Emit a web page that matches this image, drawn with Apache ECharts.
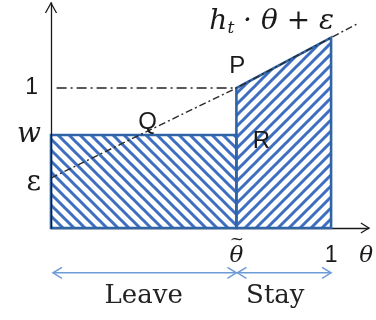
<!DOCTYPE html>
<html>
<head>
<meta charset="utf-8">
<script src="https://cdn.jsdelivr.net/npm/echarts@6/dist/echarts.min.js"></script>
<style>
  html, body { margin: 0; padding: 0; background: #fff; }
  #chart { width: 376px; height: 320px; }
</style>
</head>
<body>
<div id="chart"></div>
<script>
// Worker types θ in [0, 1]; those below the threshold θ̃ leave, the rest stay.
const thetaTilde = 0.662;
const wage = 0.664;            // w: outside payoff
const epsilon = 0.357;         // ε: intercept of h_t·θ + ε
const stayTop = [1.0, 1.36];   // payoff at θ̃ and at θ = 1
const lineTheta = [0, 0.662, 1, 1.1];
const lineValue = [0.357, 1.0, 1.36, 1.465];
const yTickValues = [0.357, 0.664, 1];
const yTickLabels = ['ε', 'w', '1'];
const xTickValues = [0.662, 1, 1.125];
const xTickLabels = ['θ̃', '1', 'θ'];
const regionNames = ['Leave', 'Stay'];
const regionSpans = [[0, 0.662], [0.662, 1]];

const X_MAX = 1.135, Y_MAX = 1.607;
const BLUE = '#2f65a7', STRIPE = '#3d6ec0', ARROW = '#6d9bd6', INK = '#1a1a1a';
const MATH = '"DejaVu Serif", serif';
const SANS = '"Liberation Sans", Arial, sans-serif';

// Diagonal hatch tiles: dir 1 => '/', dir -1 => '\'
function hatch(dir) {
  const s = 11, c = document.createElement('canvas');
  c.width = s; c.height = s;
  const g = c.getContext('2d');
  g.strokeStyle = STRIPE; g.lineWidth = 3; g.lineCap = 'square';
  g.beginPath();
  for (let k = -1; k <= 1; k++) {
    if (dir > 0) { g.moveTo(k * s, s); g.lineTo(k * s + s, 0); }
    else { g.moveTo(k * s, 0); g.lineTo(k * s + s, s); }
  }
  g.stroke();
  return c;
}

const leavePoly = [[0, 0], [thetaTilde, 0], [thetaTilde, wage], [0, wage]];
const stayPoly = [[thetaTilde, 0], [1, 0], [1, stayTop[1]], [thetaTilde, stayTop[0]]];
const regions = [
  { poly: leavePoly, tile: hatch(-1) },
  { poly: stayPoly, tile: hatch(1) }
];

function chevron(tip, ux, uy, len, half) {
  // ux, uy: direction the arrow points to
  const bx = -ux, by = -uy, px = -uy, py = ux;
  return [
    [tip[0] + bx * len + px * half, tip[1] + by * len + py * half],
    tip,
    [tip[0] + bx * len - px * half, tip[1] + by * len - py * half]
  ];
}

const annotations = [
  { text: 'Q', at: [0.345, 0.757], font: '24px ' + SANS },
  { text: 'P', at: [0.665, 1.157], font: '24px ' + SANS },
  { text: 'R', at: [0.751, 0.62], font: '24px ' + SANS }
];

const chart = echarts.init(document.getElementById('chart'), null, { renderer: 'canvas' });

chart.setOption({
  animation: false,
  grid: { left: 51, right: 6, top: 3, bottom: 92 },
  xAxis: {
    type: 'value', min: 0, max: X_MAX, z: 0,
    splitLine: { show: false }, axisTick: { show: false },
    axisLine: { onZero: false, lineStyle: { color: INK, width: 1.3 } },
    axisLabel: {
      customValues: xTickValues, margin: 6,
      formatter: v => {
        const t = xTickLabels[xTickValues.indexOf(v)];
        if (t === '1') return '{g|}\n{n|1}';
        if (t === 'θ̃') return '{t|~}\n{m|θ}';
        return '{g|}\n{m|' + t + '}';
      },
      rich: {
        g: { fontSize: 12, lineHeight: 12 },
        t: { fontFamily: MATH, fontSize: 17, lineHeight: 12, color: INK, padding: [0, 0, 0, 1] },
        n: { fontFamily: SANS, fontSize: 23, lineHeight: 20, color: INK },
        m: { fontFamily: MATH, fontStyle: 'italic', fontSize: 23, lineHeight: 20, color: INK }
      }
    }
  },
  yAxis: {
    type: 'value', min: 0, max: Y_MAX, z: 6,
    splitLine: { show: false }, axisTick: { show: false },
    axisLine: { lineStyle: { color: INK, width: 1.3 } },
    axisLabel: {
      customValues: yTickValues, margin: 10,
      formatter: v => {
        const t = yTickLabels[yTickValues.indexOf(v)];
        if (t === '1') return '{n|1}';
        if (t === 'ε') return '{e|ε}';
        return '{m|' + t + '}';
      },
      rich: {
        n: { fontFamily: SANS, fontSize: 23, color: INK, padding: [0, 3, 0, 0] },
        m: { fontFamily: MATH, fontStyle: 'italic', fontSize: 28, color: INK },
        e: { fontFamily: MATH, fontSize: 28, color: INK, padding: [10, 0, 0, 0] }
      }
    }
  },
  series: [
    {
      // hatched payoff regions
      type: 'custom', z: 3, data: [0, 1],
      renderItem: (params, api) => {
        const r = regions[params.dataIndex];
        return {
          type: 'polygon',
          shape: { points: r.poly.map(p => api.coord(p)) },
          style: {
            fill: { image: r.tile, repeat: 'repeat' },
            stroke: BLUE, lineWidth: 2.6, lineJoin: 'miter'
          }
        };
      }
    },
    {
      // reference level 1 up to θ̃
      type: 'line', z: 4, symbol: 'none', silent: true,
      data: [[0.02, 1], [thetaTilde, 1]],
      lineStyle: { color: '#222', width: 1.4, type: [10, 4, 2, 4] }
    },
    {
      // h_t·θ + ε
      type: 'line', z: 4, symbol: 'none', silent: true, clip: false,
      data: lineTheta.map((t, i) => [t, lineValue[i]]),
      lineStyle: { color: '#2a2a2a', width: 1.4, type: [7, 3, 2, 3] }
    },
    {
      // axis arrowheads, Leave / Stay spans and text
      type: 'custom', z: 7, data: [0], clip: false,
      renderItem: (params, api) => {
        const kids = [];
        const line = (pts, color, w) => kids.push({
          type: 'polyline', shape: { points: pts },
          style: { stroke: color, lineWidth: w, fill: null }
        });
        // axis arrowheads
        line(chevron(api.coord([0, Y_MAX]), 0, -1, 10, 5.5), INK, 1.3);
        line(chevron(api.coord([X_MAX, 0]), 1, 0, 8, 5), INK, 1.3);
        // double-headed spans below the axis
        regionSpans.forEach((sp, i) => {
          const a = api.coord([sp[0], -0.32]), b = api.coord([sp[1], -0.32]);
          a[0] += i === 0 ? 2 : 1;
          line([a, b], ARROW, 1.5);
          line(chevron(a, -1, 0, 9, 5.5), ARROW, 1.5);
          line(chevron(b, 1, 0, 9, 5.5), ARROW, 1.5);
          const mid = api.coord([(sp[0] + sp[1]) / 2 - (i === 1 ? 0.03 : 0), -0.49]);
          kids.push({
            type: 'text', x: mid[0], y: mid[1],
            style: { text: regionNames[i], font: '26px "DejaVu Serif", serif', fill: '#222',
                     align: 'center', verticalAlign: 'middle' }
          });
        });
        // point labels
        annotations.forEach(a => {
          const p = api.coord(a.at);
          kids.push({
            type: 'text', x: p[0], y: p[1],
            style: { text: a.text, font: a.font, fill: INK, align: 'center', verticalAlign: 'middle' }
          });
        });
        // curve label
        const end = api.coord([1, stayTop[1]]);
        kids.push({
          type: 'text', x: end[0] + 3, y: end[1] - 1,
          style: {
            text: '{i|h}{s|t}{i| · θ + ε}', align: 'right', verticalAlign: 'bottom',
            rich: {
              i: { fontFamily: MATH, fontStyle: 'italic', fontSize: 28, fill: INK, color: INK },
              s: { fontFamily: MATH, fontStyle: 'italic', fontSize: 17, fill: INK, color: INK, padding: [12, 0, 0, 0] }
            }
          }
        });
        return { type: 'group', children: kids };
      }
    }
  ]
});
</script>
</body>
</html>
